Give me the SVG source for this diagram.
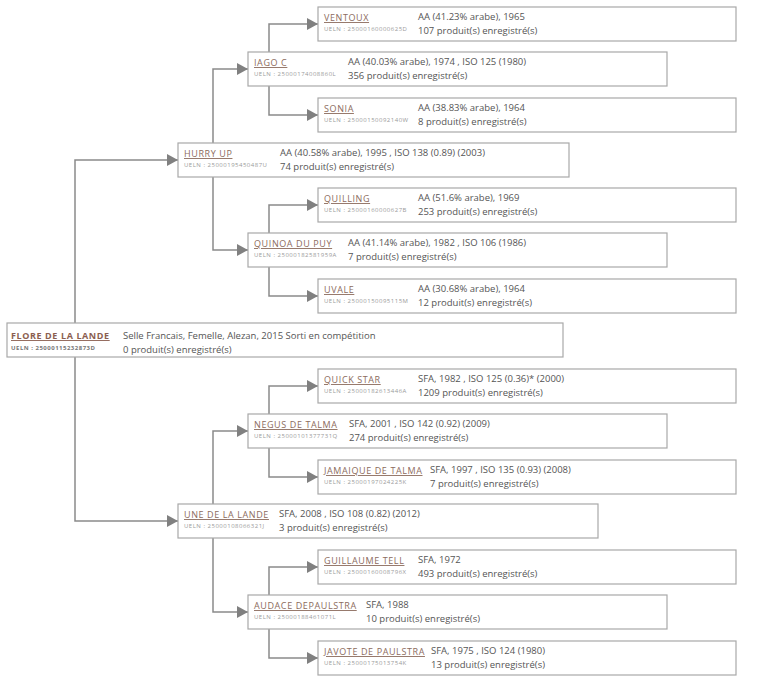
<svg xmlns="http://www.w3.org/2000/svg" width="768" height="682" viewBox="0 0 768 682">
<defs>
<style>
.box{fill:#fff;stroke:#a8a8a8;stroke-width:1.2}
.sh{fill:none;stroke:#d4d4d4;stroke-width:1}
.nm{font-family:"Open Sans","DejaVu Sans",sans-serif;font-size:9px;letter-spacing:0.6px;fill:#8c6b5d;text-decoration:underline}
.rn{font-weight:bold;fill:#8b5e50}
.ue{font-family:"Open Sans","DejaVu Sans",sans-serif;font-size:6px;letter-spacing:0.5px;fill:#9a9a9a}
.ru{font-weight:bold;fill:#777}
.in{font-family:"Open Sans","DejaVu Sans",sans-serif;font-size:9.5px;fill:#555}
.cn{fill:none;stroke:#8a8a8a;stroke-width:1.5;marker-end:url(#ah)}
</style>
<marker id="ah" markerUnits="userSpaceOnUse" markerWidth="12" markerHeight="13" refX="11" refY="6" orient="auto">
<path d="M0,0 L11,6 L0,12 Z" fill="#808080"/>
</marker>
</defs>
<rect width="768" height="682" fill="#fff"/>
<g id="connectors">
<path class="cn" d="M75,323 V160 H178"/>
<path class="cn" d="M75,357 V521 H178"/>
<path class="cn" d="M213,143 V69 H248"/>
<path class="cn" d="M213,177 V250 H248"/>
<path class="cn" d="M213,504 V431 H248"/>
<path class="cn" d="M213,538 V612 H248"/>
<path class="cn" d="M269,52 V24 H318"/>
<path class="cn" d="M269,86 V115 H318"/>
<path class="cn" d="M269,233 V205 H318"/>
<path class="cn" d="M269,267 V296 H318"/>
<path class="cn" d="M269,414 V386 H318"/>
<path class="cn" d="M269,448 V477 H318"/>
<path class="cn" d="M269,595 V567 H318"/>
<path class="cn" d="M269,629 V658 H318"/>
</g>
<g id="root">
<rect class="box" x="7" y="323" width="556" height="34"/>
<text class="nm rn" x="11" y="339">FLORE DE LA LANDE</text>
<text class="ue ru" x="11" y="350">UELN : 25000115232873D</text>
<text class="in" x="123" y="339">Selle Francais, Femelle, Alezan, 2015 Sorti en compétition</text>
<text class="in" x="123" y="353">0 produit(s) enregistré(s)</text>
</g>
<g id="hurry-up">
<rect class="box" x="178" y="143" width="391" height="34"/>
<text class="nm" x="184" y="157">HURRY UP</text>
<text class="ue" x="184" y="167">UELN : 25000195450487U</text>
<text class="in" x="280" y="156">AA (40.58% arabe), 1995 , ISO 138 (0.89) (2003)</text>
<text class="in" x="280" y="170">74 produit(s) enregistré(s)</text>
</g>
<g id="une-de-la-lande">
<rect class="box" x="178" y="504" width="420" height="34"/>
<text class="nm" x="184" y="518">UNE DE LA LANDE</text>
<text class="ue" x="184" y="528">UELN : 25000108066321J</text>
<text class="in" x="279" y="517">SFA, 2008 , ISO 108 (0.82) (2012)</text>
<text class="in" x="279" y="531">3 produit(s) enregistré(s)</text>
</g>
<g id="iago-c">
<rect class="box" x="248" y="52" width="419" height="34"/>
<text class="nm" x="254" y="66">IAGO C</text>
<text class="ue" x="254" y="76">UELN : 25000174008860L</text>
<text class="in" x="348" y="65">AA (40.03% arabe), 1974 , ISO 125 (1980)</text>
<text class="in" x="348" y="79">356 produit(s) enregistré(s)</text>
</g>
<g id="quinoa-du-puy">
<rect class="box" x="248" y="233" width="419" height="34"/>
<text class="nm" x="254" y="247">QUINOA DU PUY</text>
<text class="ue" x="254" y="257">UELN : 25000182581959A</text>
<text class="in" x="348" y="246">AA (41.14% arabe), 1982 , ISO 106 (1986)</text>
<text class="in" x="348" y="260">7 produit(s) enregistré(s)</text>
</g>
<g id="negus-de-talma">
<rect class="box" x="248" y="414" width="419" height="34"/>
<text class="nm" x="254" y="428">NEGUS DE TALMA</text>
<text class="ue" x="254" y="438">UELN : 25000101377731Q</text>
<text class="in" x="349" y="427">SFA, 2001 , ISO 142 (0.92) (2009)</text>
<text class="in" x="349" y="441">274 produit(s) enregistré(s)</text>
</g>
<g id="audace-depaulstra">
<rect class="box" x="248" y="595" width="419" height="34"/>
<text class="nm" x="254" y="609">AUDACE DEPAULSTRA</text>
<text class="ue" x="254" y="619">UELN : 25000188461071L</text>
<text class="in" x="366" y="608">SFA, 1988</text>
<text class="in" x="366" y="622">10 produit(s) enregistré(s)</text>
</g>
<g id="ventoux">
<rect class="box" x="318" y="7" width="418" height="34"/>
<text class="nm" x="324" y="21">VENTOUX</text>
<text class="ue" x="324" y="31">UELN : 25000160000625D</text>
<text class="in" x="418" y="20">AA (41.23% arabe), 1965</text>
<text class="in" x="418" y="34">107 produit(s) enregistré(s)</text>
</g>
<g id="sonia">
<rect class="box" x="318" y="98" width="418" height="34"/>
<text class="nm" x="324" y="112">SONIA</text>
<text class="ue" x="324" y="122">UELN : 25000150092140W</text>
<text class="in" x="418" y="111">AA (38.83% arabe), 1964</text>
<text class="in" x="418" y="125">8 produit(s) enregistré(s)</text>
</g>
<g id="quilling">
<rect class="box" x="318" y="188" width="418" height="34"/>
<text class="nm" x="324" y="202">QUILLING</text>
<text class="ue" x="324" y="212">UELN : 25000160000627B</text>
<text class="in" x="418" y="201">AA (51.6% arabe), 1969</text>
<text class="in" x="418" y="215">253 produit(s) enregistré(s)</text>
</g>
<g id="uvale">
<rect class="box" x="318" y="279" width="418" height="34"/>
<text class="nm" x="324" y="293">UVALE</text>
<text class="ue" x="324" y="303">UELN : 25000150095115M</text>
<text class="in" x="418" y="292">AA (30.68% arabe), 1964</text>
<text class="in" x="418" y="306">12 produit(s) enregistré(s)</text>
</g>
<g id="quick-star">
<rect class="box" x="318" y="369" width="418" height="34"/>
<text class="nm" x="324" y="383">QUICK STAR</text>
<text class="ue" x="324" y="393">UELN : 25000182613446A</text>
<text class="in" x="418" y="382">SFA, 1982 , ISO 125 (0.36)* (2000)</text>
<text class="in" x="418" y="396">1209 produit(s) enregistré(s)</text>
</g>
<g id="jamaique-de-talma">
<rect class="box" x="318" y="460" width="418" height="34"/>
<text class="nm" x="324" y="474">JAMAIQUE DE TALMA</text>
<text class="ue" x="324" y="484">UELN : 25000197024225K</text>
<text class="in" x="430" y="473">SFA, 1997 , ISO 135 (0.93) (2008)</text>
<text class="in" x="430" y="487">7 produit(s) enregistré(s)</text>
</g>
<g id="guillaume-tell">
<rect class="box" x="318" y="550" width="418" height="34"/>
<text class="nm" x="324" y="564">GUILLAUME TELL</text>
<text class="ue" x="324" y="574">UELN : 25000160008796X</text>
<text class="in" x="418" y="563">SFA, 1972</text>
<text class="in" x="418" y="577">493 produit(s) enregistré(s)</text>
</g>
<g id="javote-de-paulstra">
<rect class="box" x="318" y="641" width="418" height="34"/>
<text class="nm" x="324" y="655">JAVOTE DE PAULSTRA</text>
<text class="ue" x="324" y="665">UELN : 25000175013754K</text>
<text class="in" x="431" y="654">SFA, 1975 , ISO 124 (1980)</text>
<text class="in" x="431" y="668">13 produit(s) enregistré(s)</text>
</g>
</svg>
